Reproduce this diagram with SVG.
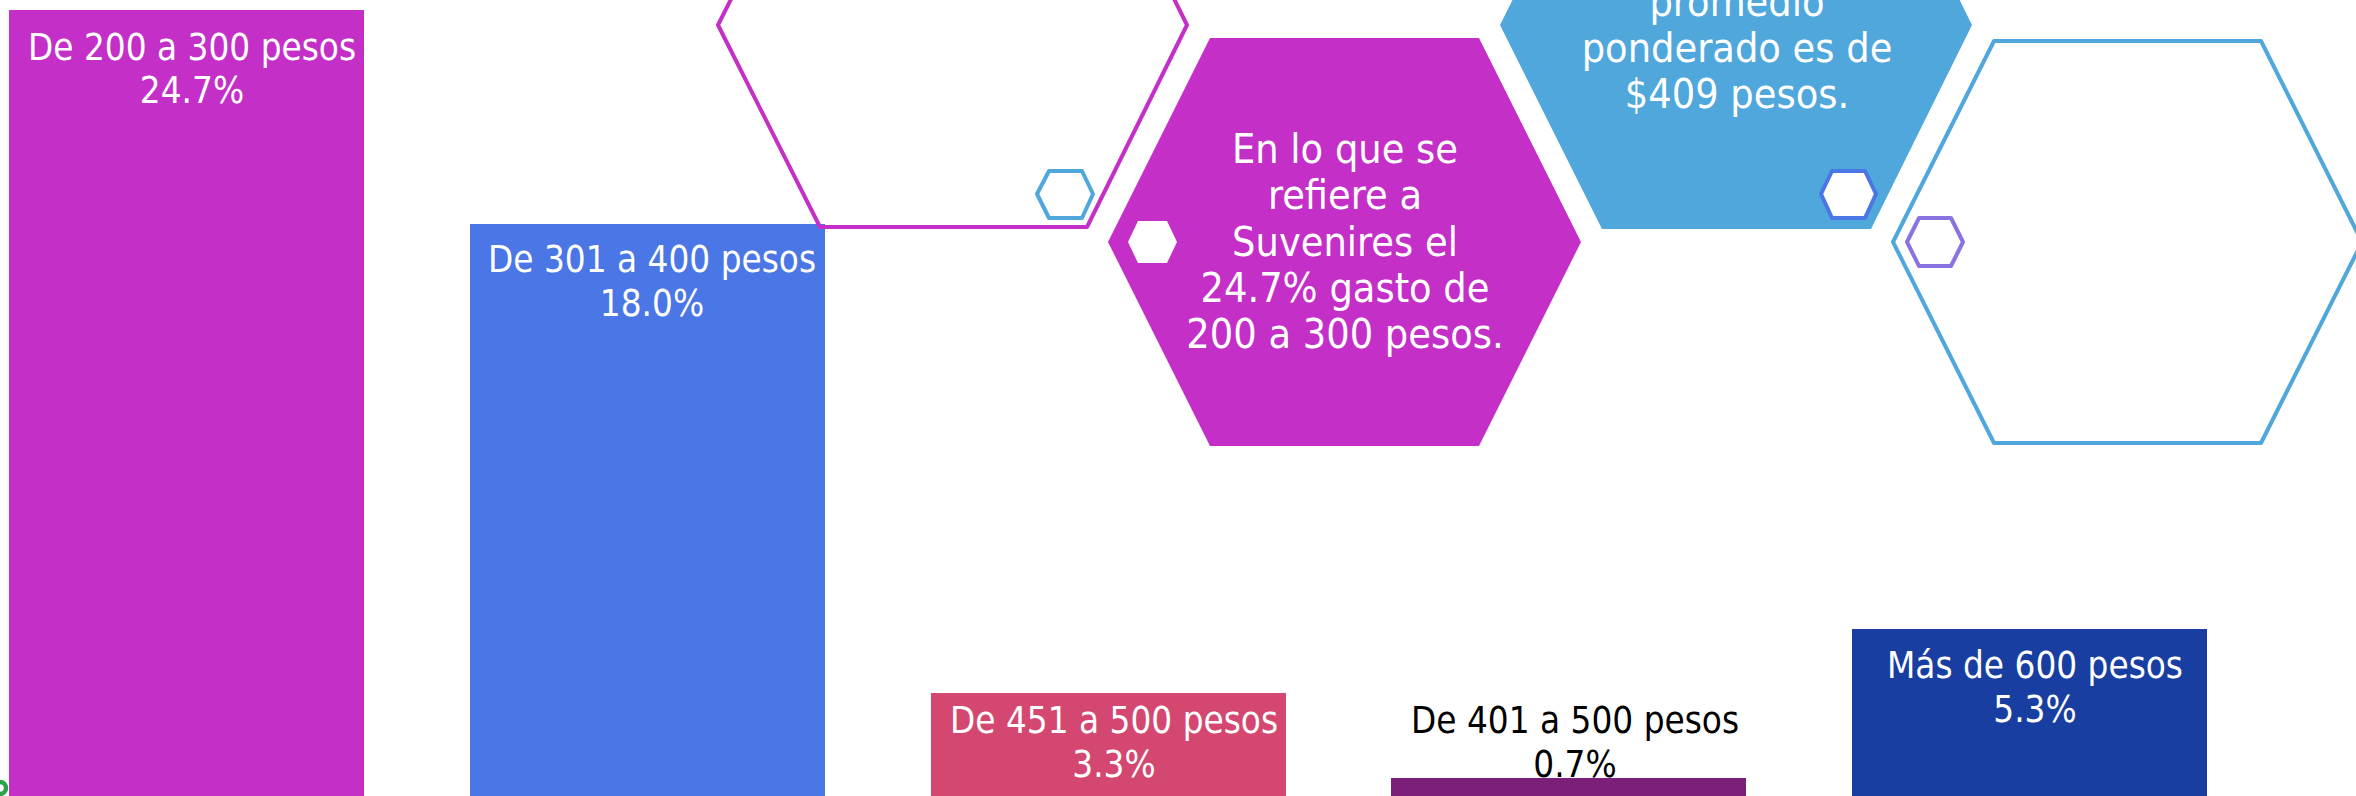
<svg xmlns="http://www.w3.org/2000/svg" width="2356" height="796" viewBox="0 0 2356 796">
<style>
.t{font-family:"DejaVu Sans Condensed","DejaVu Sans",sans-serif;font-stretch:condensed;text-anchor:middle;}
.bl{font-size:36.5px;fill:#ffffff;}
.bk{font-size:36.5px;fill:#000000;}
.hx{font-size:41px;fill:#ffffff;}
.ol{fill:none;stroke-width:4;stroke-linejoin:round;}
.sm{fill:#ffffff;stroke-width:4;stroke-linejoin:round;}
</style>
<rect width="2356" height="796" fill="#ffffff"/>
<g id="green-mark">
<circle cx="0" cy="788" r="6" fill="none" stroke="#2AA24A" stroke-width="4.5"/>
</g>
<g id="bar1">
<rect x="9" y="10" width="355" height="786" fill="#C42FC8"/>
<text class="t bl" x="192" y="60">De 200 a 300 pesos</text>
<text class="t bl" x="192" y="103">24.7%</text>
</g>
<g id="bar2">
<rect x="470" y="224" width="355" height="572" fill="#4A76E6"/>
<text class="t bl" x="652" y="272">De 301 a 400 pesos</text>
<text class="t bl" x="652" y="316">18.0%</text>
</g>
<g id="bar3">
<rect x="931" y="693" width="355" height="103" fill="#D44770"/>
<text class="t bl" x="1114" y="733">De 451 a 500 pesos</text>
<text class="t bl" x="1114" y="777">3.3%</text>
</g>
<g id="bar4">
<rect x="1391" y="778" width="355" height="18" fill="#7A1F7A"/>
<text class="t bk" x="1575" y="733">De 401 a 500 pesos</text>
<text class="t bk" x="1575" y="777">0.7%</text>
</g>
<g id="bar5">
<rect x="1852" y="629" width="355" height="167" fill="#173EA0"/>
<text class="t bl" x="2035" y="678">Más de 600 pesos</text>
<text class="t bl" x="2035" y="722">5.3%</text>
</g>
<g id="hexA">
<polygon class="ol" stroke="#C42FC8" points="718,25 820,-177 1087,-177 1187,25 1087,227 820,227"/>
<polygon class="sm" stroke="#4FA7DC" points="1037,194 1049,171 1082,171 1093,194 1082,218 1049,218"/>
</g>
<g id="hexB">
<polygon fill="#C42FC8" points="1108,242 1210,38 1479,38 1581,242 1479,446 1210,446"/>
<polygon fill="#ffffff" points="1128,242 1138,221 1167,221 1177,242 1167,263 1138,263"/>
<text class="t hx" x="1345" y="163">En lo que se</text>
<text class="t hx" x="1345" y="209">refiere a</text>
<text class="t hx" x="1345" y="256">Suvenires el</text>
<text class="t hx" x="1345" y="302">24.7% gasto de</text>
<text class="t hx" x="1345" y="348">200 a 300 pesos.</text>
</g>
<g id="hexC">
<polygon fill="#4FA7DC" points="1500,25 1602,-179 1871,-179 1972,25 1871,229 1602,229"/>
<polygon class="sm" stroke="#4A76E6" points="1821,194 1832,171 1865,171 1876,194 1865,218 1832,218"/>
<text class="t hx" x="1737" y="16">promedio</text>
<text class="t hx" x="1737" y="62">ponderado es de</text>
<text class="t hx" x="1737" y="108">$409 pesos.</text>
</g>
<g id="hexD">
<polygon class="ol" stroke="#4FA7DC" points="1893,242 1994,41 2261,41 2362,242 2261,443 1994,443"/>
<polygon class="sm" stroke="#8A72E0" points="1907,242 1919,218 1951,218 1963,242 1951,266 1919,266"/>
</g>
<g id="connectors"></g>
</svg>
